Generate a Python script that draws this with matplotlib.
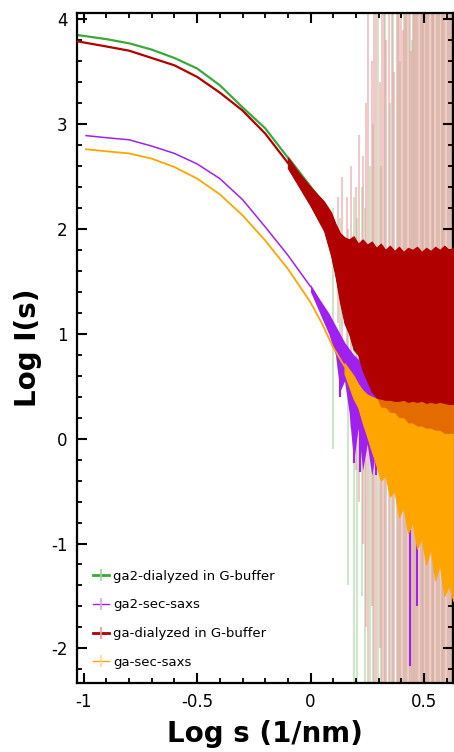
import matplotlib
matplotlib.use("Agg")
import matplotlib.pyplot as plt
from matplotlib.lines import Line2D
from matplotlib.legend_handler import HandlerTuple
from matplotlib.ticker import MultipleLocator

## data (log s, log I)
labels = ["ga2-dialyzed in G-buffer", "ga2-sec-saxs", "ga-dialyzed in G-buffer", "ga-sec-saxs"]
colors = ["#3aa83a", "#a020f0", "#b00000", "#ffa500"]
light = ["#9fd49a", "#d8a8f0", "#e89a9a", "#ffd890"]

# smooth part of the curves
green_x = [-1.03, -0.9, -0.8, -0.7, -0.6, -0.5, -0.4, -0.3, -0.2, -0.1, 0.0]
green_y = [3.85, 3.81, 3.77, 3.71, 3.63, 3.53, 3.37, 3.16, 2.96, 2.68, 2.40]
purple_x = [-0.99, -0.9, -0.8, -0.7, -0.6, -0.5, -0.4, -0.3, -0.2, -0.1, 0.0]
purple_y = [2.89, 2.87, 2.85, 2.79, 2.72, 2.62, 2.48, 2.28, 2.02, 1.75, 1.45]
red_x = [-1.03, -0.9, -0.8, -0.7, -0.6, -0.5, -0.4, -0.3, -0.2, -0.1]
red_y = [3.79, 3.74, 3.70, 3.63, 3.56, 3.45, 3.30, 3.13, 2.91, 2.63]
orange_x = [-0.99, -0.9, -0.8, -0.7, -0.6, -0.5, -0.4, -0.3, -0.2, -0.1, 0.0, 0.05, 0.1, 0.15]
orange_y = [2.76, 2.74, 2.72, 2.67, 2.59, 2.48, 2.33, 2.13, 1.89, 1.62, 1.30, 1.10, 0.87, 0.69]

# noisy part: envelope of the scatter
green_band_x = [-0.1, -0.05, 0.0, 0.05, 0.1, 0.15, 0.2, 0.3, 0.4, 0.5, 0.6, 0.63]
green_band_hi = [2.70, 2.56, 2.42, 2.28, 2.10, 1.85, 1.75, 1.70, 1.70, 1.70, 1.70, 1.70]
green_band_lo = [2.64, 2.46, 2.28, 2.08, 1.80, 1.30, 1.00, 0.50, 0.30, 0.25, 0.20, 0.20]

purple_band_x = [0.0, 0.04, 0.08, 0.11, 0.13, 0.15, 0.17, 0.19, 0.21, 0.23, 0.25, 0.27, 0.29, 0.31, 0.35]
purple_band_hi = [1.47, 1.33, 1.20, 1.08, 1.00, 0.92, 0.86, 0.80, 0.76, 0.72, 0.68, 0.64, 0.60, 0.55, 0.50]
purple_band_lo = [1.40, 1.20, 1.00, 0.80, 0.45, 0.55, 0.25, -0.22, 0.10, -0.30, -0.05, -0.35, -0.10, -0.20, -0.25]

red_band_x = [-0.1, -0.05, 0.0, 0.03, 0.06, 0.09, 0.11, 0.13, 0.15, 0.17, 0.19, 0.21, 0.23,
              0.25, 0.27, 0.29, 0.31, 0.33, 0.35, 0.37, 0.39, 0.41, 0.43, 0.45, 0.47,
              0.49, 0.51, 0.53, 0.55, 0.57, 0.59, 0.61, 0.63]
red_band_hi = [2.68, 2.53, 2.40, 2.33, 2.26, 2.16, 2.05, 1.96, 1.92, 1.90, 1.93, 1.86, 1.90,
               1.85, 1.88, 1.82, 1.86, 1.80, 1.84, 1.79, 1.83, 1.78, 1.82, 1.80, 1.83,
               1.78, 1.82, 1.79, 1.83, 1.80, 1.84, 1.80, 1.82]
red_band_lo = [2.58, 2.40, 2.22, 2.10, 1.98, 1.75, 1.55, 1.30, 1.10, 1.00, 0.85, 0.80, 0.65,
               0.55, 0.45, 0.40, 0.30, 0.30, 0.25, 0.25, 0.20, 0.20, 0.15, 0.15, 0.12,
               0.12, 0.10, 0.10, 0.08, 0.08, 0.05, 0.05, 0.05]

orange_band_x = [0.15, 0.17, 0.19, 0.21, 0.23, 0.25, 0.27, 0.29, 0.31, 0.33, 0.35, 0.37, 0.39,
                 0.41, 0.43, 0.45, 0.47, 0.49, 0.51, 0.53, 0.55, 0.57, 0.59, 0.61, 0.63]
orange_band_hi = [0.72, 0.66, 0.60, 0.52, 0.46, 0.42, 0.40, 0.38, 0.37, 0.36, 0.36, 0.35, 0.35,
                  0.36, 0.34, 0.35, 0.34, 0.35, 0.33, 0.34, 0.33, 0.34, 0.33, 0.32, 0.32]
orange_band_lo = [0.62, 0.50, 0.38, 0.30, 0.15, 0.02, -0.12, -0.25, -0.40, -0.35, -0.55, -0.50,
                  -0.75, -0.65, -0.90, -0.80, -1.05, -0.95, -1.20, -1.05, -1.35, -1.20, -1.50, -1.40, -1.55]

# error bars (light vertical lines)
red_err_x = [0.12, 0.14, 0.16, 0.18, 0.20, 0.215, 0.23, 0.245, 0.255, 0.27,
             0.28, 0.29, 0.305, 0.315, 0.325, 0.335, 0.345, 0.36, 0.37, 0.38,
             0.39, 0.40, 0.41, 0.418, 0.426, 0.434, 0.442, 0.45, 0.458, 0.466,
             0.474, 0.482, 0.49, 0.498, 0.506, 0.514, 0.522, 0.53, 0.538, 0.546,
             0.554, 0.562, 0.57, 0.578, 0.586, 0.594, 0.602, 0.61, 0.618, 0.626]
red_err_hi = [2.3, 2.5, 2.3, 2.6, 2.4, 2.9, 2.7, 3.2, 4.1, 3.6,
              4.1, 4.1, 3.4, 4.1, 4.1, 3.8, 4.1, 4.1, 3.5, 4.1,
              4.1, 4.1, 3.9, 4.1, 4.1, 4.1, 3.7, 4.1, 4.1, 4.1,
              4.1, 4.1, 4.1, 4.1, 4.1, 4.1, 4.1, 4.1, 4.1, 4.1,
              4.1, 4.1, 4.1, 4.1, 4.1, 4.1, 4.1, 4.1, 4.1, 4.1]
red_err_lo = [1.1, 0.9, 0.5, 0.1, -0.3, -0.6, -1.0, -1.8, -2.4, -1.6,
              -2.4, -2.4, -2.0, -2.4, -2.4, -2.4, -2.4, -2.4, -2.4, -2.4,
              -2.4, -2.4, -2.4, -2.4, -2.4, -2.4, -2.4, -2.4, -2.4, -2.4,
              -2.4, -2.4, -2.4, -2.4, -2.4, -2.4, -2.4, -2.4, -2.4, -2.4,
              -2.4, -2.4, -2.4, -2.4, -2.4, -2.4, -2.4, -2.4, -2.4, -2.4]

green_err_x = [0.10, 0.13, 0.165, 0.19, 0.205, 0.225, 0.24, 0.262, 0.275, 0.298,
               0.31, 0.33, 0.352, 0.365, 0.385, 0.395, 0.414, 0.422, 0.438, 0.446,
               0.462, 0.47, 0.486, 0.494, 0.51, 0.518, 0.534, 0.542, 0.558, 0.566,
               0.582, 0.59, 0.606, 0.614, 0.622]
green_err_hi = [2.2, 2.1, 2.0, 2.3, 2.1, 2.4, 2.2, 2.6, 3.0, 4.1,
                2.6, 4.1, 3.2, 4.1, 4.1, 3.6, 4.1, 4.1, 4.1, 3.8,
                4.1, 4.1, 4.1, 4.1, 4.1, 4.1, 4.1, 4.1, 4.1, 4.1,
                4.1, 4.1, 4.1, 4.1, 4.1]
green_err_lo = [-0.1, 0.4, -1.4, -2.4, -2.4, -1.5, -2.4, -2.4, -2.4, -2.4,
                -2.4, -2.4, -2.4, -2.4, -2.4, -2.4, -2.4, -2.4, -2.4, -2.4,
                -2.4, -2.4, -2.4, -2.4, -2.4, -2.4, -2.4, -2.4, -2.4, -2.4,
                -2.4, -2.4, -2.4, -2.4, -2.4]

# bright purple spikes poking out under the orange
purple_spike_x = [0.13, 0.19, 0.22, 0.29, 0.44, 0.47]
purple_spike_hi = [0.9, 0.6, 0.5, 0.3, -0.6, -0.9]
purple_spike_lo = [0.4, -0.23, -0.32, -0.35, -2.17, -1.6]

fig = plt.figure(figsize=(4.54, 7.52), dpi=100)
ax = fig.add_axes([0.1696, 0.0918, 0.828, 0.891])

# error bars first, underneath everything
ax.vlines(green_err_x, green_err_lo, green_err_hi, color=light[0], lw=1.4, alpha=0.55, zorder=1)
ax.vlines(red_err_x, red_err_lo, red_err_hi, color=light[2], lw=1.4, alpha=0.55, zorder=1)

# green
ax.plot(green_x, green_y, color=colors[0], lw=1.6, zorder=2)
ax.fill_between(green_band_x, green_band_lo, green_band_hi, color=colors[0], lw=0, zorder=2)
# purple
ax.plot(purple_x, purple_y, color=colors[1], lw=1.1, zorder=3)
ax.fill_between(purple_band_x, purple_band_lo, purple_band_hi, color=colors[1], lw=0, zorder=3)
ax.vlines(purple_spike_x, purple_spike_lo, purple_spike_hi, color=colors[1], lw=1.5, zorder=3)
# red
ax.plot(red_x, red_y, color=colors[2], lw=1.6, zorder=4)
ax.fill_between(red_band_x, red_band_lo, red_band_hi, color=colors[2], lw=0.8, zorder=4)
# orange
ax.plot(orange_x, orange_y, color=colors[3], lw=1.3, zorder=5)
ax.fill_between(orange_band_x, orange_band_lo, orange_band_hi, color=colors[3], lw=0.8, zorder=5)
# red scatter seen through the orange
ax.fill_between(red_band_x, red_band_lo, red_band_hi, color=colors[2], lw=0, alpha=0.35, zorder=6)

ax.set_xlim(-1.03, 0.628)
ax.set_ylim(-2.33, 4.06)
ax.xaxis.set_minor_locator(MultipleLocator(0.1))
ax.yaxis.set_minor_locator(MultipleLocator(0.2))
ax.set_xticks([-1, -0.5, 0, 0.5])
ax.set_xticklabels(["-1", "-0.5", "0", "0.5"])
ax.set_yticks([-2, -1, 0, 1, 2, 3, 4])
ax.set_yticklabels(["-2", "-1", "0", "1", "2", "3", "4"])
ax.tick_params(which="both", direction="in", top=True, right=True, labelsize=12, pad=7)
ax.tick_params(which="major", length=7, width=1.5)
ax.tick_params(which="minor", length=3.5, width=1.3)
for sp in ax.spines.values():
    sp.set_linewidth(1.6)

ax.set_xlabel("Log s (1/nm)", fontsize=20, fontweight="bold", labelpad=7)
ax.set_ylabel("Log I(s)", fontsize=20, fontweight="bold", labelpad=6)

handles = []
for i in range(4):
    lw = 2.0 if i in (0, 2) else 1.0
    handles.append((Line2D([], [], color=colors[i], lw=lw),
                    Line2D([], [], color=light[i], marker="|", ls="none", markersize=8, mew=1.2)))
ax.legend(handles, labels, handler_map={tuple: HandlerTuple(ndivide=1)},
          loc="lower left", bbox_to_anchor=(0.043, 0.021), frameon=False, fontsize=9.5,
          handlelength=1.2, handletextpad=0.3, labelspacing=1.19, borderpad=0, borderaxespad=0)

fig.savefig("out.png", dpi=100)
